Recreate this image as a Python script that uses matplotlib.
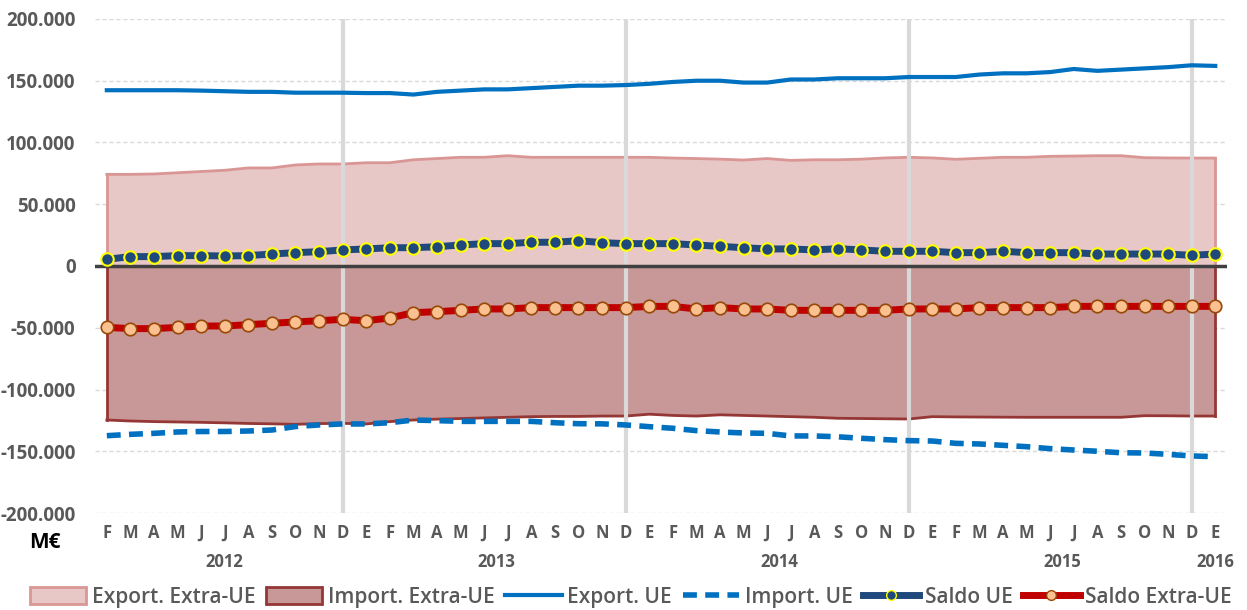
import numpy as np
import matplotlib.pyplot as plt
from matplotlib.patches import Patch
from matplotlib.lines import Line2D

plt.rcParams['font.family'] = ['Open Sans', 'DejaVu Sans']

months = ["F", "M", "A", "M", "J", "J", "A", "S", "O", "N", "D",
          "E", "F", "M", "A", "M", "J", "J", "A", "S", "O", "N", "D",
          "E", "F", "M", "A", "M", "J", "J", "A", "S", "O", "N", "D",
          "E", "F", "M", "A", "M", "J", "J", "A", "S", "O", "N", "D",
          "E"]
years = ["2012", "2013", "2014", "2015", "2016"]

# values in M€
export_ue = [142300, 142300, 142300, 142300, 142000, 141500, 141000, 141000, 140300, 140300, 140300,
             140000, 140000, 138800, 141000, 142000, 143000, 143000, 144000, 145000, 146000, 146000, 146500,
             147500, 149000, 150000, 150000, 148500, 148500, 151000, 151000, 152000, 152000, 152000, 153000,
             153000, 153000, 155000, 156000, 156000, 157000, 159500, 158000, 159000, 160000, 161000, 162500,
             162000]
import_ue = [-137400, -136300, -135500, -134400, -134000, -134000, -133600, -132800, -130000, -128700, -127900,
             -127900, -126900, -124700, -125200, -125800, -125800, -125800, -125800, -126900, -127700, -127800, -128700,
             -130100, -131400, -133300, -134400, -135200, -135500, -137600, -137600, -138300, -139500, -140600, -141400,
             -141700, -143600, -144100, -145200, -146300, -147900, -149000, -150000, -151200, -151400, -152500, -153800,
             -154400]
export_extra = [74200, 74200, 74500, 75500, 76500, 77500, 79400, 79400, 81800, 82600, 82600,
                83600, 83600, 86000, 87000, 88000, 88000, 89300, 88000, 88000, 88000, 88000, 88000,
                88000, 87400, 87000, 86500, 85800, 87000, 85500, 86000, 86000, 86500, 87500, 88000,
                87500, 86400, 87200, 88000, 88000, 88800, 89000, 89300, 89300, 87700, 87500, 87400,
                87400]
import_extra = [-124700, -125500, -126000, -126300, -126600, -127000, -127500, -127800, -128200, -127600, -127400,
                -127900, -126000, -124700, -124000, -123500, -123000, -122500, -122000, -121800, -121800, -121500, -121500,
                -120000, -121000, -121500, -120500, -121000, -121500, -122000, -122500, -123300, -123500, -123700, -123900,
                -122000, -122200, -122300, -122400, -122500, -122500, -122500, -122500, -122500, -121200, -121300, -121500,
                -121500]
saldo_ue = [5400, 7600, 7600, 8400, 8400, 8100, 8400, 9700, 10800, 11600, 13000,
            13800, 14800, 14800, 15600, 17000, 18100, 18100, 19200, 19200, 20500, 18900, 18100,
            18100, 18100, 17000, 15900, 14800, 13800, 13800, 13000, 14000, 13000, 11900, 11900,
            11900, 10800, 10800, 11900, 10800, 10800, 10800, 9700, 9700, 9700, 9700, 8600,
            9700]
saldo_extra = [-49700, -50700, -50700, -49700, -48600, -48600, -47500, -46400, -45300, -44300, -43200,
               -44300, -42100, -37800, -37000, -35900, -34800, -34800, -33700, -33700, -33700, -33700, -33700,
               -32700, -32700, -34800, -33700, -34800, -34800, -35900, -35900, -35900, -35900, -35900, -34800,
               -34800, -34800, -33700, -33700, -33700, -33700, -32700, -32700, -32700, -32700, -32700, -32700,
               -32700]

x = np.arange(len(months))
grey = "#595959"

fig = plt.figure(figsize=(12.47, 6.10), dpi=100)
ax = fig.add_axes([0.0762, 0.159, 0.9078, 0.8099])

# areas
ax.fill_between(x, 0, export_extra, facecolor="#E8C7C7", edgecolor="none", zorder=1)
ax.plot(x, export_extra, color="#D99694", linewidth=2, zorder=2)
ax.fill_between(x, 0, import_extra, facecolor="#C89797", edgecolor="none", zorder=1)
ax.plot(x, import_extra, color="#953735", linewidth=2, zorder=2)
ax.plot([x[0], x[0]], [0, export_extra[0]], color="#D99694", linewidth=2, zorder=2)
ax.plot([x[-1], x[-1]], [0, export_extra[-1]], color="#D99694", linewidth=2, zorder=2)
ax.plot([x[0], x[0]], [0, import_extra[0]], color="#953735", linewidth=2, zorder=2)
ax.plot([x[-1], x[-1]], [0, import_extra[-1]], color="#953735", linewidth=2, zorder=2)

# grid
for v in range(-200000, 200001, 50000):
    ax.axhline(v, color="#D9D9D9", linewidth=1, linestyle=(0, (3, 2)), zorder=0.5)
ax.axhline(0, color="#404040", linewidth=2.5, zorder=3)

# year separators at December
for i, m in enumerate(months):
    if m == "D":
        ax.axvline(i, color="#D9D9D9", linewidth=3, zorder=2.5)

# lines
ax.plot(x, export_ue, color="#0070C0", linewidth=3, zorder=4)
ax.plot(x, import_ue, color="#0070C0", linewidth=4, linestyle=(0, (2.5, 1.5)), zorder=4)
ax.plot(x, saldo_ue, color="#1F497D", linewidth=5, marker="o", markersize=9,
        markerfacecolor="#1F497D", markeredgecolor="#FFFF00", markeredgewidth=1.5, zorder=5)
ax.plot(x, saldo_extra, color="#C00000", linewidth=5, marker="o", markersize=9,
        markerfacecolor="#FAC090", markeredgecolor="#984807", markeredgewidth=1.2, zorder=5)

ax.set_xlim(-0.5, len(months) - 0.5)
ax.set_ylim(-200000, 200000)
ax.set_yticks(range(-200000, 200001, 50000))
ax.set_yticklabels([f"{v:,}".replace(",", ".") for v in range(-200000, 200001, 50000)],
                   fontsize=13.5, fontweight="bold", color=grey)
ax.set_xticks(x)
ax.set_xticklabels(months, fontsize=12, fontweight="bold", color=grey)
ax.tick_params(axis="y", length=0, pad=14)
ax.tick_params(axis="x", length=0, pad=8)
for s in ax.spines.values():
    s.set_visible(False)

# year labels
year_pos = [(0 + 10) / 2, (11 + 22) / 2, (23 + 34) / 2, (35 + 46) / 2, 47]
for yp, yl in zip(year_pos, years):
    ax.text(yp, -0.1, yl, transform=ax.get_xaxis_transform(), ha="center", va="center",
            fontsize=12, fontweight="bold", color=grey)
fig.text(0.036, 0.11, "M€", fontsize=15, fontweight="bold", color="black", ha="center", va="center")

handles = [
    Patch(facecolor="#E8C7C7", edgecolor="#D99694", linewidth=2),
    Patch(facecolor="#C89797", edgecolor="#953735", linewidth=2),
    Line2D([], [], color="#0070C0", linewidth=3),
    Line2D([], [], color="#0070C0", linewidth=4, linestyle=(0, (2.5, 1.5))),
    Line2D([], [], color="#1F497D", linewidth=5, marker="o", markersize=7,
           markerfacecolor="#1F497D", markeredgecolor="#FFFF00"),
    Line2D([], [], color="#C00000", linewidth=5, marker="o", markersize=7,
           markerfacecolor="#FAC090", markeredgecolor="#984807"),
]
labels = ["Export. Extra-UE", "Import. Extra-UE", "Export. UE", "Import. UE", "Saldo UE", "Saldo Extra-UE"]
leg = fig.legend(handles, labels, loc="center", bbox_to_anchor=(0.506, 0.021), ncol=6, frameon=False,
                 prop={"size": 15, "weight": 600}, handlelength=2.7, handleheight=0.85,
                 handletextpad=0.28, columnspacing=0.5, borderpad=0.2)
for t in leg.get_texts():
    t.set_color(grey)

fig.savefig("out.png", dpi=100)
